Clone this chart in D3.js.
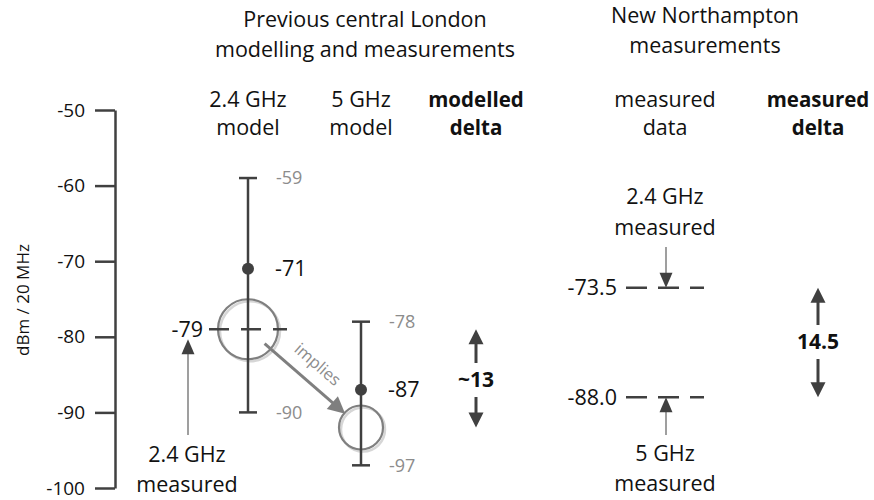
<!DOCTYPE html>
<html>
<head>
<meta charset="utf-8">
<script src="https://cdn.jsdelivr.net/npm/d3@7"></script>
<style>
  html, body { margin: 0; padding: 0; background: #fff; }
  svg text { font-family: "Open Sans", Lato, sans-serif; }
</style>
</head>
<body>
<svg id="chart" width="874" height="500"></svg>
<script>
// Signal level (dBm / 20 MHz) — modelled bands and measurements
const axisTicks = [-50, -60, -70, -80, -90, -100];

// central London model: 2.4 GHz and 5 GHz ranges
const modelBands = ["2.4 GHz", "5 GHz"];
const modelHigh = [-59, -78];
const modelMean = [-71, -87];
const modelLow = [-90, -97];
// 2.4 GHz measured value and the 5 GHz level it implies
const circleValues = [-79, -92];
const modelledDelta = 13;

// Northampton measurements: 2.4 GHz, 5 GHz
const measuredValues = [-73.5, -88.0];
const measuredLabels = ["-73.5", "-88.0"];
const measuredDelta = 14.5;

const svg = d3.select("#chart");
const dark = "#404040", mid = "#7f7f7f", light = "#8c8c8c", ink = "#111";
const FONT = "'Open Sans', Lato, sans-serif";
const FS = 21.5;   // main label size

const y = d3.scaleLinear().domain([-100, -50]).range([488, 110]);
const x = d3.scaleOrdinal()
  .domain(["axis", "m24", "m5", "mdelta", "meas", "measdelta"])
  .range([115, 248, 361, 476, 665, 818]);

// ---- arrow helper: shaft + triangular head ----
function arrow(g, x1, y1, x2, y2, o) {
  const dx = x2 - x1, dy = y2 - y1, len = Math.hypot(dx, dy);
  const ux = dx / len, uy = dy / len;
  const bx = x2 - ux * o.headL, by = y2 - uy * o.headL;
  g.append("line")
    .attr("x1", x1).attr("y1", y1).attr("x2", bx + ux).attr("y2", by + uy)
    .attr("stroke", o.shaft).attr("stroke-width", o.w);
  const px = -uy * o.headW / 2, py = ux * o.headW / 2;
  g.append("path")
    .attr("d", `M${x2},${y2}L${bx + px},${by + py}L${bx - px},${by - py}Z`)
    .attr("fill", o.head);
}

// ---- headers ----
const headers = [
  { x: 365, y: 27, t: "Previous central London" },
  { x: 365, y: 57, t: "modelling and measurements" },
  { x: 705, y: 23, t: "New Northampton" },
  { x: 705, y: 53, t: "measurements" },
  { x: x("m24"), y: 107, t: "2.4 GHz" },
  { x: x("m24"), y: 135, t: "model" },
  { x: x("m5"), y: 107, t: "5 GHz" },
  { x: x("m5"), y: 135, t: "model" },
  { x: x("mdelta"), y: 107, t: "modelled", b: true },
  { x: x("mdelta"), y: 135, t: "delta", b: true },
  { x: x("meas"), y: 107, t: "measured" },
  { x: x("meas"), y: 135, t: "data" },
  { x: x("measdelta"), y: 107, t: "measured", b: true },
  { x: x("measdelta"), y: 135, t: "delta", b: true }
];
svg.append("g").selectAll("text").data(headers).join("text")
  .attr("x", d => d.x).attr("y", d => d.y)
  .attr("text-anchor", "middle")
  .attr("font-size", d => d.b ? FS - 1 : FS)
  .attr("font-weight", d => d.b ? "bold" : "normal")
  .attr("fill", ink)
  .text(d => d.t);

// ---- y axis ----
const axis = d3.axisLeft(y).tickValues(axisTicks).tickSize(20).tickSizeOuter(0)
  .tickPadding(10).tickFormat(d => String(d));
const ga = svg.append("g").attr("transform", `translate(${x("axis")},0)`).call(axis);
ga.attr("font-family", FONT).attr("font-size", 19);
ga.selectAll("path, line").attr("stroke", dark).attr("stroke-width", 2.5);
ga.selectAll("text").attr("fill", ink);

svg.append("text")
  .attr("transform", `translate(29,300) rotate(-90)`)
  .attr("text-anchor", "middle").attr("font-size", 17).attr("fill", ink)
  .text("dBm / 20 MHz");

// ---- model columns ----
const cols = [x("m24"), x("m5")];
const radii = [30, 22];
const gm = svg.append("g");

// circles (with soft shadow) for measured / implied levels
circleValues.forEach((v, i) => {
  gm.append("circle").attr("cx", cols[i] + 2).attr("cy", y(v) + 2).attr("r", radii[i])
    .attr("fill", "none").attr("stroke", "#d6d6d6").attr("stroke-width", 2.5);
  gm.append("circle").attr("cx", cols[i]).attr("cy", y(v)).attr("r", radii[i])
    .attr("fill", "none").attr("stroke", mid).attr("stroke-width", 2.2);
});

// dashed level of the 2.4 GHz measurement
gm.append("line")
  .attr("x1", cols[0] - 39).attr("x2", cols[0] + 39)
  .attr("y1", y(circleValues[0])).attr("y2", y(circleValues[0]))
  .attr("stroke", dark).attr("stroke-width", 2.5).attr("stroke-dasharray", "20,12");

modelBands.forEach((b, i) => {
  const cx = cols[i];
  gm.append("line").attr("x1", cx).attr("x2", cx)
    .attr("y1", y(modelHigh[i])).attr("y2", y(modelLow[i]))
    .attr("stroke", dark).attr("stroke-width", 2.5);
  [modelHigh[i], modelLow[i]].forEach(v => {
    gm.append("line").attr("x1", cx - 9).attr("x2", cx + 9)
      .attr("y1", y(v)).attr("y2", y(v))
      .attr("stroke", dark).attr("stroke-width", 2.5);
  });
  gm.append("circle").attr("cx", cx).attr("cy", y(modelMean[i])).attr("r", 6)
    .attr("fill", dark);
  // range labels
  [modelHigh[i], modelLow[i]].forEach(v => {
    gm.append("text").attr("x", cx + 28).attr("y", y(v)).attr("dy", "0.35em")
      .attr("font-size", 18).attr("fill", light).text(v);
  });
  gm.append("text").attr("x", cx + 27).attr("y", y(modelMean[i])).attr("dy", "0.35em")
    .attr("font-size", FS).attr("fill", ink).text(modelMean[i]);
});

// measured 2.4 GHz label and pointer
gm.append("text").attr("x", cols[0] - 45).attr("y", y(circleValues[0])).attr("dy", "0.35em")
  .attr("text-anchor", "end").attr("font-size", FS).attr("fill", ink).text(circleValues[0]);
arrow(gm, 188, 435, 188, y(circleValues[0]) + 10,
  { w: 1.5, headL: 15, headW: 13, shaft: mid, head: dark });
gm.append("text").attr("x", 187).attr("y", 462).attr("text-anchor", "middle")
  .attr("font-size", FS).attr("fill", ink).text("2.4 GHz");
gm.append("text").attr("x", 187).attr("y", 492).attr("text-anchor", "middle")
  .attr("font-size", FS).attr("fill", ink).text("measured");

// "implies" arrow from one circle to the other
{
  const x1 = cols[0], y1 = y(circleValues[0]), x2 = cols[1], y2 = y(circleValues[1]);
  const d = Math.hypot(x2 - x1, y2 - y1), ux = (x2 - x1) / d, uy = (y2 - y1) / d;
  const sx = x1 + ux * 22, sy = y1 + uy * 22;
  const ex = x2 - ux * (radii[1] - 1), ey = y2 - uy * (radii[1] - 1);
  arrow(gm, sx, sy, ex, ey, { w: 3, headL: 17, headW: 17, shaft: mid, head: mid });
  const ang = Math.atan2(ey - sy, ex - sx) * 180 / Math.PI;
  const mx = (sx + ex) / 2, my = (sy + ey) / 2;
  gm.append("text")
    .attr("transform", `translate(${mx + 9},${my - 10}) rotate(${ang})`)
    .attr("text-anchor", "middle").attr("font-size", 16.5).attr("fill", light)
    .text("implies");
}

// modelled delta
const gd = svg.append("g");
function deltaArrows(cx, vTop, vBot, label, labelY) {
  arrow(gd, cx, labelY - 24, cx, y(vTop), { w: 3, headL: 15, headW: 15, shaft: dark, head: dark });
  arrow(gd, cx, labelY + 10, cx, y(vBot), { w: 3, headL: 15, headW: 15, shaft: dark, head: dark });
  gd.append("text").attr("x", cx).attr("y", labelY).attr("text-anchor", "middle")
    .attr("font-size", 21).attr("font-weight", "bold").attr("fill", ink).text(label);
}
deltaArrows(x("mdelta"), circleValues[0], circleValues[0] - modelledDelta, "~" + modelledDelta, 387);

// ---- Northampton measured data ----
const gn = svg.append("g");
measuredValues.forEach((v, i) => {
  gn.append("line").attr("x1", x("meas") - 39).attr("x2", x("meas") + 39)
    .attr("y1", y(v)).attr("y2", y(v))
    .attr("stroke", dark).attr("stroke-width", 2.5).attr("stroke-dasharray", "21,11");
  gn.append("text").attr("x", x("meas") - 48).attr("y", y(v)).attr("dy", "0.35em")
    .attr("text-anchor", "end").attr("font-size", FS).attr("fill", ink).text(measuredLabels[i]);
});
arrow(gn, x("meas") + 1, 247, x("meas") + 1, y(measuredValues[0]), { w: 1.5, headL: 15, headW: 13, shaft: mid, head: dark });
arrow(gn, x("meas") + 1, 435, x("meas") + 1, y(measuredValues[1]), { w: 1.5, headL: 15, headW: 13, shaft: mid, head: dark });
[["2.4 GHz", 204], ["measured", 235], ["5 GHz", 461], ["measured", 491]].forEach(([t, ty]) => {
  gn.append("text").attr("x", x("meas")).attr("y", ty).attr("text-anchor", "middle")
    .attr("font-size", FS).attr("fill", ink).text(t);
});
deltaArrows(x("measdelta"), measuredValues[0], measuredValues[0] - measuredDelta, String(measuredDelta), 349);
</script>
</body>
</html>
